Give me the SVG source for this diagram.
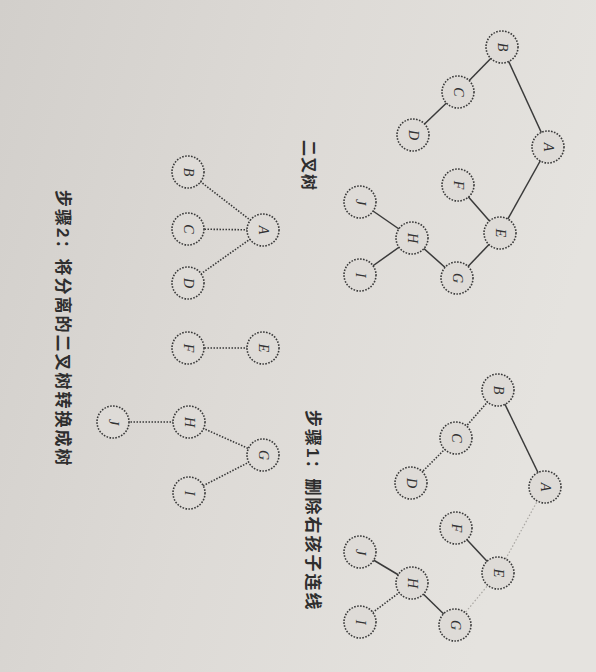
<svg xmlns="http://www.w3.org/2000/svg" width="596" height="672" viewBox="0 0 596 672">
<defs>
<linearGradient id="bg" x1="0" y1="0" x2="1" y2="0.3">
<stop offset="0" stop-color="#d2cfcb"/>
<stop offset="0.5" stop-color="#dddad6"/>
<stop offset="1" stop-color="#e5e3df"/>
</linearGradient>
</defs>
<style>
.n circle{fill:#dedbd7;stroke:#3a3a3a;stroke-width:1.6;stroke-dasharray:1.6 1.4}
.n text{font-family:"Liberation Serif",serif;font-style:italic;font-size:14px;fill:#333;text-anchor:middle;dominant-baseline:central}
.e{stroke:#3a3a3a;stroke-width:1.5;fill:none}
.d{stroke:#3a3a3a;stroke-width:1.6;stroke-dasharray:1.5 1.5;fill:none}
.f{stroke:#a9a6a2;stroke-width:1.2;stroke-dasharray:1.5 2;fill:none}
.t{font-family:"Liberation Sans","Noto Sans CJK SC",sans-serif;font-size:17px;letter-spacing:2px;fill:#2e2e2e;font-weight:bold;dominant-baseline:central}
</style>
<rect width="596" height="672" fill="url(#bg)"/>
<g id="connectors">
<line class="e" x1="502" y1="47" x2="458" y2="92"/>
<line class="e" x1="458" y1="92" x2="413" y2="135"/>
<line class="e" x1="502" y1="47" x2="548" y2="147"/>
<line class="e" x1="548" y1="147" x2="500" y2="233"/>
<line class="e" x1="500" y1="233" x2="458" y2="185"/>
<line class="e" x1="500" y1="233" x2="457" y2="278"/>
<line class="e" x1="457" y1="278" x2="412" y2="238"/>
<line class="e" x1="412" y1="238" x2="360" y2="202"/>
<line class="e" x1="412" y1="238" x2="360" y2="275"/>
<line class="d" x1="498" y1="390" x2="456" y2="438"/>
<line class="d" x1="456" y1="438" x2="411" y2="483"/>
<line class="e" x1="498" y1="390" x2="545" y2="487"/>
<line class="f" x1="545" y1="487" x2="498" y2="573"/>
<line class="e" x1="498" y1="573" x2="456" y2="528"/>
<line class="f" x1="498" y1="573" x2="455" y2="625"/>
<line class="e" x1="455" y1="625" x2="412" y2="583"/>
<line class="e" x1="412" y1="583" x2="360" y2="552"/>
<line class="d" x1="412" y1="583" x2="360" y2="622"/>
<line class="d" x1="263" y1="230" x2="188" y2="172"/>
<line class="d" x1="263" y1="230" x2="188" y2="229"/>
<line class="d" x1="263" y1="230" x2="188" y2="283"/>
<line class="d" x1="263" y1="348" x2="188" y2="348"/>
<line class="d" x1="189" y1="422" x2="113" y2="422"/>
<line class="d" x1="189" y1="422" x2="263" y2="455"/>
<line class="d" x1="263" y1="455" x2="189" y2="493"/>
</g>
<g id="t0B" class="n"><circle cx="502" cy="47" r="16"/><text transform="translate(502 47) rotate(90)">B</text></g>
<g id="t0C" class="n"><circle cx="458" cy="92" r="16"/><text transform="translate(458 92) rotate(90)">C</text></g>
<g id="t0D" class="n"><circle cx="413" cy="135" r="16"/><text transform="translate(413 135) rotate(90)">D</text></g>
<g id="t0A" class="n"><circle cx="548" cy="147" r="16"/><text transform="translate(548 147) rotate(90)">A</text></g>
<g id="t0F" class="n"><circle cx="458" cy="185" r="16"/><text transform="translate(458 185) rotate(90)">F</text></g>
<g id="t0E" class="n"><circle cx="500" cy="233" r="16"/><text transform="translate(500 233) rotate(90)">E</text></g>
<g id="t0G" class="n"><circle cx="457" cy="278" r="16"/><text transform="translate(457 278) rotate(90)">G</text></g>
<g id="t0H" class="n"><circle cx="412" cy="238" r="16"/><text transform="translate(412 238) rotate(90)">H</text></g>
<g id="t0J" class="n"><circle cx="360" cy="202" r="16"/><text transform="translate(360 202) rotate(90)">J</text></g>
<g id="t0I" class="n"><circle cx="360" cy="275" r="16"/><text transform="translate(360 275) rotate(90)">I</text></g>
<g id="t1B" class="n"><circle cx="498" cy="390" r="16"/><text transform="translate(498 390) rotate(90)">B</text></g>
<g id="t1C" class="n"><circle cx="456" cy="438" r="16"/><text transform="translate(456 438) rotate(90)">C</text></g>
<g id="t1D" class="n"><circle cx="411" cy="483" r="16"/><text transform="translate(411 483) rotate(90)">D</text></g>
<g id="t1A" class="n"><circle cx="545" cy="487" r="16"/><text transform="translate(545 487) rotate(90)">A</text></g>
<g id="t1F" class="n"><circle cx="456" cy="528" r="16"/><text transform="translate(456 528) rotate(90)">F</text></g>
<g id="t1E" class="n"><circle cx="498" cy="573" r="16"/><text transform="translate(498 573) rotate(90)">E</text></g>
<g id="t1H" class="n"><circle cx="412" cy="583" r="16"/><text transform="translate(412 583) rotate(90)">H</text></g>
<g id="t1J" class="n"><circle cx="360" cy="552" r="16"/><text transform="translate(360 552) rotate(90)">J</text></g>
<g id="t1I" class="n"><circle cx="360" cy="622" r="16"/><text transform="translate(360 622) rotate(90)">I</text></g>
<g id="t1G" class="n"><circle cx="455" cy="625" r="16"/><text transform="translate(455 625) rotate(90)">G</text></g>
<g id="t2B" class="n"><circle cx="188" cy="172" r="16"/><text transform="translate(188 172) rotate(90)">B</text></g>
<g id="t2C" class="n"><circle cx="188" cy="229" r="16"/><text transform="translate(188 229) rotate(90)">C</text></g>
<g id="t2D" class="n"><circle cx="188" cy="283" r="16"/><text transform="translate(188 283) rotate(90)">D</text></g>
<g id="t2A" class="n"><circle cx="263" cy="230" r="16"/><text transform="translate(263 230) rotate(90)">A</text></g>
<g id="t2F" class="n"><circle cx="188" cy="348" r="16"/><text transform="translate(188 348) rotate(90)">F</text></g>
<g id="t2E" class="n"><circle cx="263" cy="348" r="16"/><text transform="translate(263 348) rotate(90)">E</text></g>
<g id="t2J" class="n"><circle cx="113" cy="422" r="16"/><text transform="translate(113 422) rotate(90)">J</text></g>
<g id="t2H" class="n"><circle cx="189" cy="422" r="16"/><text transform="translate(189 422) rotate(90)">H</text></g>
<g id="t2G" class="n"><circle cx="263" cy="455" r="16"/><text transform="translate(263 455) rotate(90)">G</text></g>
<g id="t2I" class="n"><circle cx="189" cy="493" r="16"/><text transform="translate(189 493) rotate(90)">I</text></g>
<g id="captions">
<text class="t" transform="translate(308 140) rotate(90)" style="font-size:16px;letter-spacing:1px">二叉树</text>
<text class="t" transform="translate(312 410) rotate(90)">步骤1：删除右孩子连线</text>
<text class="t" transform="translate(62 190) rotate(90)">步骤2：将分离的二叉树转换成树</text>
</g>
</svg>
